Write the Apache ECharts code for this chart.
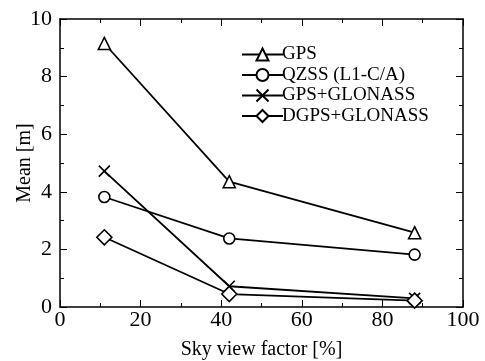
<!DOCTYPE html>
<html>
<head>
<meta charset="utf-8">
<script src="https://cdn.jsdelivr.net/npm/echarts@6/dist/echarts.min.js"></script>
<style>
html, body { margin: 0; padding: 0; background: #fff; }
#chart { width: 485px; height: 361px; }
</style>
</head>
<body>
<div id="chart"></div>
<script>
// sky view factor [%] for each test site
var skyView = [11, 42, 88];
var seriesNames = ['GPS', 'QZSS (L1-C/A)', 'GPS+GLONASS', 'DGPS+GLONASS'];
var gpsMean = [9.15, 4.35, 2.58];
var qzssMean = [3.82, 2.38, 1.82];
var gpsGlonassMean = [4.72, 0.72, 0.3];
var dgpsGlonassMean = [2.42, 0.45, 0.22];

var font = 'Liberation Serif';
var crossPath = 'path://M0,0L10,10M10,0L0,10';

function pairs(vals) {
    var res = [];
    for (var i = 0; i < vals.length; i++) {
        res.push([skyView[i], vals[i]]);
    }
    return res;
}

function makeSeries(name, vals, symbol, size) {
    return {
        name: name,
        type: 'line',
        data: pairs(vals),
        symbol: symbol,
        symbolSize: size,
        showAllSymbol: true,
        lineStyle: { color: '#000', width: 1.8 },
        itemStyle: { color: '#fff', borderColor: '#000', borderWidth: 1.6 },
        emphasis: { disabled: true },
        z: 3
    };
}

var chart = echarts.init(document.getElementById('chart'));

function sides(extra) {
    return Object.assign({
        axisLine: { show: true, onZero: false, lineStyle: { color: '#000', width: 1.5 } },
        axisTick: { show: true, inside: true, length: 7, lineStyle: { color: '#000', width: 1 } },
        minorTick: { show: true, splitNumber: 2, length: 4, lineStyle: { color: '#000', width: 1 } },
        splitLine: { show: false }
    }, extra);
}

var option = {
    animation: false,
    backgroundColor: '#fff',
    grid: { left: 60, right: 22, top: 19, bottom: 54, outerBoundsMode: 'none', containLabel: false },
    legend: {
        left: 236,
        top: 40,
        orient: 'vertical',
        itemWidth: 41,
        itemHeight: 15,
        itemGap: 1.5,
        selectedMode: false,
        textStyle: { fontFamily: font, fontSize: 19, lineHeight: 19, color: '#000', padding: [0, 0, 0, -6] },
        data: seriesNames
    },
    xAxis: [
        sides({
            type: 'value', min: 0, max: 100, interval: 20,
            name: 'Sky view factor [%]', nameLocation: 'middle', nameGap: 33,
            nameMoveOverlap: false,
            nameTextStyle: { fontFamily: font, fontSize: 20, color: '#000' },
            axisLabel: { fontFamily: font, fontSize: 22, color: '#000', margin: 2 }
        }),
        sides({
            type: 'value', min: 0, max: 100, interval: 20, position: 'top',
            axisLabel: { show: false }
        })
    ],
    yAxis: [
        sides({
            type: 'value', min: 0, max: 10, interval: 2,
            name: 'Mean [m]', nameLocation: 'middle', nameGap: 25,
            nameMoveOverlap: false,
            nameTextStyle: { fontFamily: font, fontSize: 20, color: '#000' },
            axisLabel: { fontFamily: font, fontSize: 22, color: '#000', margin: 8 }
        }),
        sides({
            type: 'value', min: 0, max: 10, interval: 2, position: 'right',
            axisLabel: { show: false }
        })
    ],
    series: [
        makeSeries(seriesNames[0], gpsMean, 'triangle', 12),
        makeSeries(seriesNames[1], qzssMean, 'circle', 11),
        makeSeries(seriesNames[2], gpsGlonassMean, crossPath, 11),
        makeSeries(seriesNames[3], dgpsGlonassMean, 'diamond', 15)
    ]
};
chart.setOption(option);
</script>
</body>
</html>
